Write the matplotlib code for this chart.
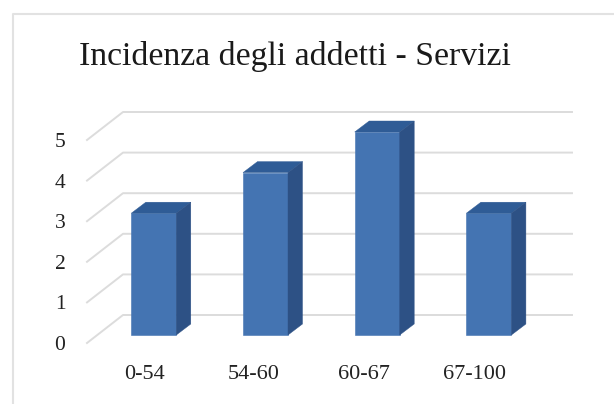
import matplotlib
matplotlib.use("Agg")
import matplotlib.pyplot as plt
import numpy as np

categories = ["0-54", "54-60", "60-67", "67-100"]
values = [3, 4, 5, 3]
y_ticks = [0, 1, 2, 3, 4, 5]
label_px = [144.5, 254, 364, 475]

plt.rcParams['font.family'] = ['Liberation Serif', 'DejaVu Sans']

# one bar step = 111.7 px, one unit on y = 40.6 px
px_x = 1 / 111.7
px_y = 1 / 40.6
x0 = 153.8
bar_w = 45 * px_x
depth_x = 14.5 * px_x
depth_y = 11 * px_y

fig = plt.figure(figsize=(6.14, 4.04), dpi=100)
ax = fig.add_axes([0, 0, 1, 1])
ax.set_xlim(-x0 * px_x, (614 - x0) * px_x)
ax.set_ylim(-69 * px_y, 335 * px_y)
ax.axis("off")

# outer frame, open on the right and at the bottom
ax.plot([(13 - x0) * px_x, (13 - x0) * px_x, (614 - x0) * px_x],
        [-69 * px_y, 321.5 * px_y, 321.5 * px_y], color="#e2e2e2", lw=1.5)

# walls: floor edge goes from the labels back to the wall
grey = "#dcdcdc"
x_front = (87 - x0) * px_x
x_back = (123 - x0) * px_x
x_end = (572 - x0) * px_x
for v in y_ticks:
    y_f = v - 8 * px_y
    y_b = v + 20 * px_y
    ax.plot([x_front, x_back, x_end], [y_f, y_b, y_b], color=grey, lw=1.4, zorder=1)

# 3d look bars
x = np.arange(len(values))
ax.bar(x, values, width=bar_w, color="#4474b2", edgecolor="#4474b2", lw=0.4, zorder=3)
for i, v in zip(x, values):
    l = i - bar_w / 2
    r = i + bar_w / 2
    ax.fill([l, r, r + depth_x, l + depth_x], [v, v, v + depth_y, v + depth_y],
            color="#2f5c96", lw=0.3, zorder=3)
    ax.fill([r, r + depth_x, r + depth_x, r], [0, depth_y, v + depth_y, v],
            color="#2d5185", lw=0.3, zorder=3)

for p, c in zip(label_px, categories):
    ax.text((p - x0) * px_x, -39.5 * px_y, c, ha="center", va="center", fontsize=16, color="#222222")
for v in y_ticks:
    ax.text((60 - x0) * px_x, v - 10.5 * px_y, str(v), ha="center", va="center",
            fontsize=15.5, color="#222222")

ax.text((295 - x0) * px_x, 279 * px_y, "Incidenza degli addetti - Servizi",
        ha="center", va="center", fontsize=24.3, color="#1a1a1a")

plt.savefig("out.png", dpi=100)
